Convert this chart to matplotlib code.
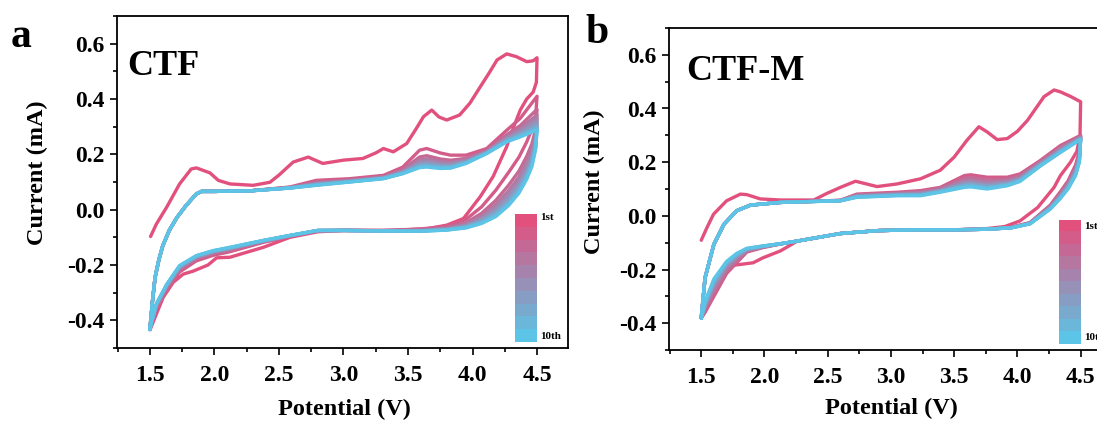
import numpy as np
import matplotlib
matplotlib.use('Agg')
import matplotlib.pyplot as plt
from matplotlib.colors import to_rgb
from matplotlib.ticker import MultipleLocator, FormatStrFormatter

plt.rcParams['font.family'] = ['Liberation Serif', 'DejaVu Serif']
plt.rcParams['font.weight'] = 'bold'
plt.rcParams['axes.unicode_minus'] = False

first_color = '#E2507E'
last_color = '#5CC4E6'
n_cycles = 10

# ---------------- panel a: CTF ----------------
a_v1_up = [1.505, 1.55, 1.63, 1.73, 1.82, 1.86, 1.965, 2.03, 2.12, 2.30, 2.43, 2.50, 2.61, 2.727,
           2.84, 3.00, 3.15, 3.25, 3.31, 3.386, 3.49, 3.56, 3.62, 3.684, 3.74, 3.80, 3.90, 3.98,
           4.06, 4.13, 4.19, 4.265, 4.34, 4.42, 4.47, 4.50]
a_i1_up = [-0.097, -0.052, 0.009, 0.093, 0.147, 0.151, 0.133, 0.106, 0.093, 0.088, 0.099, 0.125,
           0.172, 0.190, 0.167, 0.179, 0.185, 0.205, 0.221, 0.209, 0.239, 0.290, 0.336, 0.360,
           0.335, 0.324, 0.342, 0.385, 0.444, 0.495, 0.541, 0.563, 0.553, 0.535, 0.538, 0.549]
a_v1_down = [4.50, 4.495, 4.47, 4.42, 4.37, 4.32, 4.265, 4.16, 4.06, 3.93, 3.80, 3.66, 3.40, 3.00,
             2.80, 2.585, 2.38, 2.12, 2.017, 1.95, 1.836, 1.758, 1.68, 1.603, 1.539, 1.505]
a_i1_down = [0.549, 0.46, 0.425, 0.40, 0.36, 0.30, 0.228, 0.12, 0.047, -0.032, -0.056, -0.068,
             -0.075, -0.075, -0.080, -0.100, -0.136, -0.172, -0.174, -0.200, -0.222, -0.233,
             -0.263, -0.317, -0.390, -0.430]

a_v_up = [1.50, 1.52, 1.54, 1.57, 1.60, 1.65, 1.71, 1.78, 1.86, 1.90, 2.00, 2.275, 2.585, 2.79,
          3.05, 3.31, 3.46, 3.59, 3.645, 3.75, 3.83, 3.95, 4.11, 4.265, 4.37, 4.50]
a_i2_up = [-0.433, -0.33, -0.245, -0.18, -0.13, -0.075, -0.028, 0.015, 0.057, 0.066, 0.066, 0.068,
           0.082, 0.106, 0.112, 0.124, 0.154, 0.215, 0.221, 0.205, 0.197, 0.197, 0.221, 0.287,
           0.330, 0.410]
a_i10_up = [-0.433, -0.33, -0.245, -0.18, -0.13, -0.075, -0.028, 0.015, 0.057, 0.066, 0.066, 0.068,
            0.078, 0.088, 0.100, 0.112, 0.130, 0.152, 0.154, 0.149, 0.150, 0.167, 0.203, 0.245,
            0.263, 0.288]
a_v_down = [4.50, 4.49, 4.46, 4.42, 4.36, 4.28, 4.18, 4.07, 3.95, 3.80, 3.60, 3.30, 3.00, 2.80,
            2.585, 2.38, 2.12, 1.99, 1.86, 1.73, 1.63, 1.55, 1.51, 1.50]
a_i2_down = [0.41, 0.34, 0.29, 0.245, 0.19, 0.135, 0.07, 0.01, -0.035, -0.06, -0.07, -0.075,
             -0.075, -0.077, -0.097, -0.118, -0.152, -0.165, -0.185, -0.225, -0.29, -0.36, -0.415,
             -0.433]
a_i10_down = [0.288, 0.22, 0.155, 0.11, 0.06, 0.015, -0.025, -0.05, -0.066, -0.074, -0.078, -0.077,
              -0.075, -0.075, -0.093, -0.111, -0.136, -0.148, -0.166, -0.202, -0.27, -0.34, -0.41,
              -0.433]
# oxidation peak near 3.65 V read for cycles 2..10
a_peaks = [0.221, 0.195, 0.184, 0.177, 0.171, 0.166, 0.161, 0.157, 0.154]

# ---------------- panel b: CTF-M ----------------
b_v1_up = [1.50, 1.545, 1.597, 1.70, 1.81, 1.86, 1.967, 2.125, 2.39, 2.495, 2.60, 2.72, 2.89, 3.05,
           3.234, 3.39, 3.50, 3.60, 3.695, 3.76, 3.84, 3.92, 4.00, 4.08, 4.21, 4.29, 4.34, 4.42,
           4.48, 4.50]
b_i1_up = [-0.091, -0.044, 0.006, 0.056, 0.081, 0.079, 0.063, 0.059, 0.059, 0.084, 0.106, 0.129,
           0.109, 0.119, 0.138, 0.170, 0.219, 0.281, 0.332, 0.313, 0.284, 0.288, 0.315, 0.356,
           0.444, 0.469, 0.462, 0.445, 0.430, 0.425]
b_v1_down = [4.50, 4.495, 4.47, 4.42, 4.34, 4.29, 4.16, 4.02, 3.90, 3.75, 3.50, 3.20, 2.90, 2.60,
             2.26, 2.125, 1.99, 1.91, 1.81, 1.756, 1.70, 1.60, 1.52, 1.50]
b_i1_down = [0.425, 0.30, 0.24, 0.20, 0.15, 0.106, 0.031, -0.019, -0.040, -0.048, -0.052, -0.052,
             -0.055, -0.066, -0.094, -0.131, -0.156, -0.175, -0.181, -0.184, -0.200, -0.280,
             -0.356, -0.381]

b_v_up = [1.50, 1.53, 1.60, 1.68, 1.78, 1.89, 2.125, 2.60, 2.73, 3.05, 3.234, 3.39, 3.58, 3.63,
          3.76, 3.92, 4.02, 4.18, 4.34, 4.50]
b_i2_up = [-0.381, -0.231, -0.106, -0.031, 0.019, 0.040, 0.050, 0.058, 0.081, 0.088, 0.094, 0.106,
           0.150, 0.153, 0.144, 0.144, 0.156, 0.206, 0.262, 0.300]
b_i10_up = [-0.381, -0.231, -0.106, -0.031, 0.019, 0.040, 0.050, 0.056, 0.069, 0.075, 0.075, 0.088,
            0.106, 0.108, 0.100, 0.112, 0.128, 0.185, 0.236, 0.285]
b_v_down = [4.50, 4.49, 4.46, 4.40, 4.34, 4.26, 4.10, 3.95, 3.75, 3.50, 3.20, 2.90, 2.60, 2.26,
            2.125, 1.99, 1.86, 1.78, 1.70, 1.60, 1.53, 1.50]
b_i2_down = [0.30, 0.24, 0.19, 0.13, 0.09, 0.04, -0.025, -0.043, -0.050, -0.052, -0.052, -0.055,
             -0.066, -0.094, -0.105, -0.118, -0.135, -0.175, -0.215, -0.300, -0.360, -0.381]
b_i10_down = [0.285, 0.20, 0.15, 0.10, 0.065, 0.025, -0.030, -0.045, -0.050, -0.052, -0.052, -0.055,
              -0.066, -0.094, -0.104, -0.112, -0.121, -0.140, -0.170, -0.235, -0.320, -0.381]
b_peaks = [0.153, 0.142, 0.135, 0.128, 0.122, 0.118, 0.114, 0.110, 0.106]

c0 = np.array(to_rgb(first_color))
c1 = np.array(to_rgb(last_color))
colors = [tuple(c0 + (c1 - c0) * k / (n_cycles - 1)) for k in range(n_cycles)]


def cycles(v1u, i1u, v1d, i1d, vu, i2u, i10u, vd, i2d, i10d, peaks):
    out = [(np.r_[v1u, v1d], np.r_[i1u, i1d])]
    i2u, i10u, i2d, i10d = map(np.array, (i2u, i10u, i2d, i10d))
    for p in peaks:
        w = (p - peaks[-1]) / (peaks[0] - peaks[-1])
        up = i10u + w * (i2u - i10u)
        down = i10d + w * (i2d - i10d)
        out.append((np.r_[vu, vd], np.r_[up, down]))
    return out


def style(ax):
    ax.set_xlim(1.245, 4.74)
    ax.set_ylim(-0.5, 0.7)
    ax.xaxis.set_major_locator(MultipleLocator(0.5))
    ax.xaxis.set_minor_locator(MultipleLocator(0.25))
    ax.yaxis.set_major_locator(MultipleLocator(0.2))
    ax.yaxis.set_minor_locator(MultipleLocator(0.1))
    ax.xaxis.set_major_formatter(FormatStrFormatter('%.1f'))
    ax.yaxis.set_major_formatter(FormatStrFormatter('%.1f'))
    ax.tick_params(which='major', direction='out', length=5, width=1.2, labelsize=17, pad=4)
    ax.tick_params(axis='x', which='major', pad=7)
    ax.tick_params(which='minor', direction='out', length=3, width=1.2)
    for sp in ax.spines.values():
        sp.set_linewidth(1.3)
    for lab in ax.get_xticklabels() + ax.get_yticklabels():
        lab.set_fontweight('bold')


def colorbar(fig, rect, label_x, y_top, y_bot):
    cax = fig.add_axes(rect)
    cax.imshow(np.array(colors)[:, None, :], aspect='auto', interpolation='nearest')
    cax.axis('off')
    fig.text(label_x, y_top, '1st', fontsize=8, fontweight='bold', va='center', ha='left')
    fig.text(label_x, y_bot, '10th', fontsize=8, fontweight='bold', va='center', ha='left')


W, H = 1097, 423
fig = plt.figure(figsize=(W / 100, H / 100), dpi=100)

ax_a = fig.add_axes([117 / W, (H - 348) / H, 451 / W, 332 / H])
ax_b = fig.add_axes([669 / W, (H - 350) / H, 442 / W, 322 / H])

data_a = cycles(a_v1_up, a_i1_up, a_v1_down, a_i1_down, a_v_up, a_i2_up, a_i10_up,
                a_v_down, a_i2_down, a_i10_down, a_peaks)
data_b = cycles(b_v1_up, b_i1_up, b_v1_down, b_i1_down, b_v_up, b_i2_up, b_i10_up,
                b_v_down, b_i2_down, b_i10_down, b_peaks)

for ax, data in ((ax_a, data_a), (ax_b, data_b)):
    for k, (v, i) in enumerate(data):
        ax.plot(v, i, color=colors[k], lw=2.4, solid_joinstyle='round', solid_capstyle='round')
    style(ax)

ax_a.text(0.022, 0.822, 'CTF', transform=ax_a.transAxes, fontsize=26, fontweight='bold')
ax_b.text(0.038, 0.839, 'CTF-M', transform=ax_b.transAxes, fontsize=26, fontweight='bold')

fig.text(11 / W, 1 - 47 / H, 'a', fontsize=30, fontweight='bold', va='baseline')
fig.text(585 / W, 1 - 43 / H, 'b', fontsize=30, fontweight='bold', va='baseline')

fig.text(37 / W, 1 - 173 / H, 'Current (mA)', rotation=90, fontsize=17.5, fontweight='bold',
         ha='center', va='center')
fig.text(594 / W, 1 - 182 / H, 'Current (mA)', rotation=90, fontsize=17.5, fontweight='bold',
         ha='center', va='center')
fig.text(344 / W, 1 - 409 / H, 'Potential (V)', fontsize=17.5, fontweight='bold',
         ha='center', va='center')
fig.text(891 / W, 1 - 408 / H, 'Potential (V)', fontsize=17.5, fontweight='bold',
         ha='center', va='center')

colorbar(fig, [515 / W, (H - 342) / H, 22 / W, 128 / H], 540 / W, 1 - 217 / H, 1 - 336 / H)
colorbar(fig, [1059 / W, (H - 344) / H, 22 / W, 124 / H], 1084 / W, 1 - 226 / H, 1 - 337 / H)

fig.savefig('out.png', dpi=100)
